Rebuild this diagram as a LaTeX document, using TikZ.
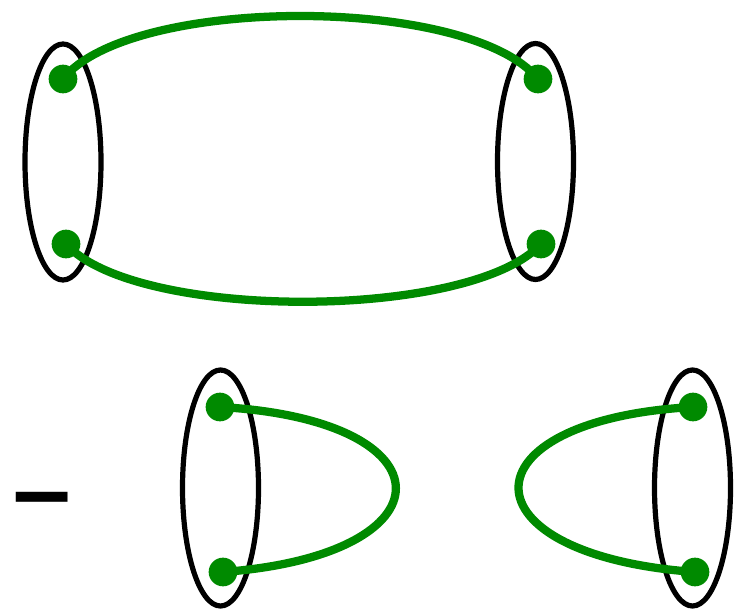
\documentclass[tikz,border=0pt]{standalone}
\usepackage{fontspec}
\newfontfamily\minusfont{DejaVu Sans}
\usetikzlibrary{shapes.geometric}
\definecolor{grn}{RGB}{0,138,0}
\tikzset{
  grp/.style={draw=black, line width=3.9pt, ellipse, inner sep=0pt, minimum width=57pt, minimum height=177pt},
  dot/.style={circle, fill=grn, inner sep=0pt, minimum size=21.5pt},
  link/.style={draw=grn, line width=6.2pt},
}
\begin{document}
\begin{tikzpicture}[x=0.75pt,y=-0.75pt]
\useasboundingbox (0,0) rectangle (741,609);
% top diagram
\node[grp] (e1) at (63,162) {};
\node[grp] (e2) at (535.5,161.5) {};
\coordinate (a1) at (63,79);
\coordinate (a2) at (66,244);
\coordinate (b1) at (538,79);
\coordinate (b2) at (541,244);
\draw[link] (a1) .. controls (130,-5) and (470,-5) .. (b1);
\draw[link] (a2) .. controls (135,321) and (470,321) .. (b2);
\node[dot] (d1) at (a1) {};
\node[dot] (d2) at (a2) {};
\node[dot] (d3) at (b1) {};
\node[dot] (d4) at (b2) {};
% bottom diagram
\node[font=\minusfont\fontsize{62pt}{62pt}\selectfont\bfseries, inner sep=0pt, anchor=base] (m) at (42.5,524.5) {\scalebox{1}[1.05]{−}};
\node[grp] (e3) at (220.5,488) {};
\node[grp] (e4) at (692.5,488) {};
\coordinate (c1) at (220,407);
\coordinate (c2) at (223,572);
\coordinate (f1) at (693,407);
\coordinate (f2) at (695,572);
\draw[link] (c1) .. controls (454,420) and (454,555) .. (c2);
\draw[link] (f1) .. controls (460,420) and (460,555) .. (f2);
\node[dot] (d5) at (c1) {};
\node[dot] (d6) at (c2) {};
\node[dot] (d7) at (f1) {};
\node[dot] (d8) at (f2) {};
\end{tikzpicture}
\end{document}
